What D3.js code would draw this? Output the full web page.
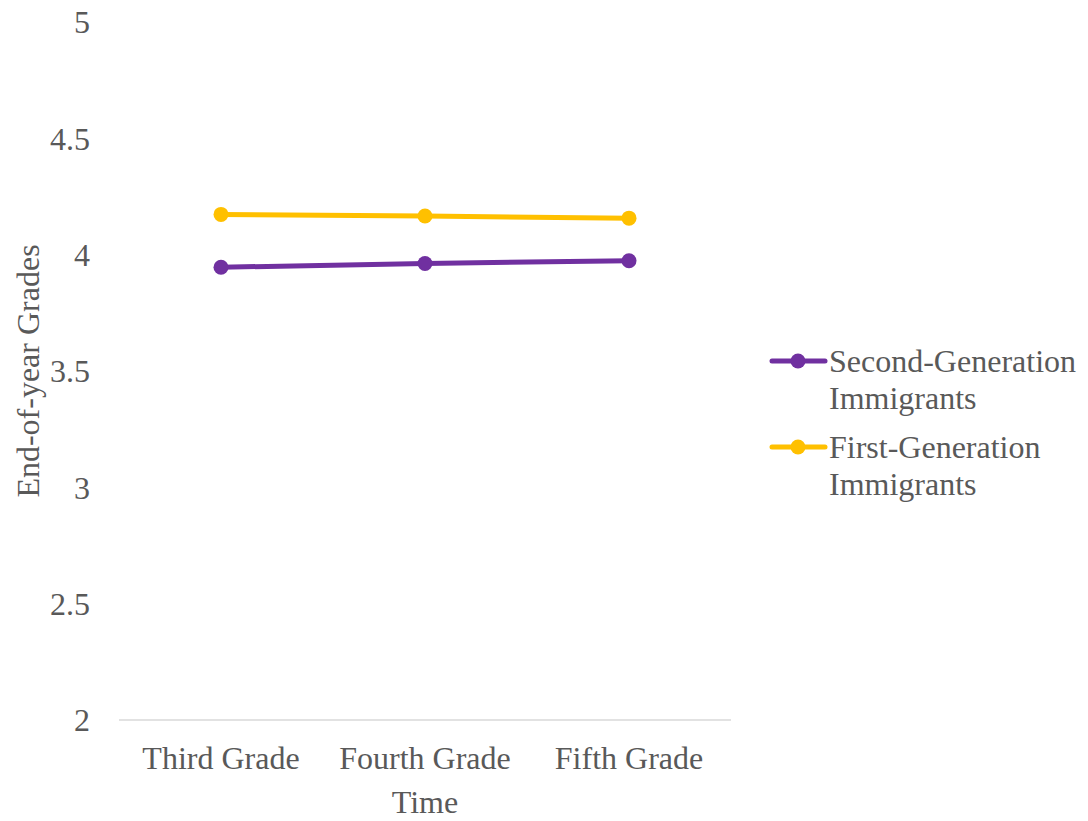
<!DOCTYPE html>
<html><head><meta charset="utf-8">
<script src="https://cdn.jsdelivr.net/npm/d3@7"></script>
<style>body{margin:0;background:#fff;} text{font-family:"Liberation Serif","Times New Roman",serif;fill:#595959;}</style>
</head><body>
<svg id="c" width="1088" height="821"></svg>
<script>
const categories = ["Third Grade", "Fourth Grade", "Fifth Grade"];
const secondGen = [3.946, 3.962, 3.974];
const firstGen = [4.173, 4.166, 4.157];
const yTicks = [2, 2.5, 3, 3.5, 4, 4.5, 5];
const seriesNames = [["Second-Generation", "Immigrants"], ["First-Generation", "Immigrants"]];
const colors = ["#7030A0", "#FFC000"];

const svg = d3.select("#c");
const x = d3.scalePoint().domain(categories).range([221, 629]).padding(0);
const y = d3.scaleLinear().domain([2, 5]).range([720, 22]);
const fs = 32;

// axis line
svg.append("line").attr("x1", 119).attr("x2", 731).attr("y1", y(2)).attr("y2", y(2))
  .attr("stroke", "#d9d9d9").attr("stroke-width", 1.5);

// y tick labels
svg.selectAll(".yt").data(yTicks).enter().append("text")
  .attr("x", 90).attr("y", d => y(d)).attr("dy", "0.35em").attr("text-anchor", "end")
  .style("font-size", fs + "px").text(d => d);

// x tick labels
svg.selectAll(".xt").data(categories).enter().append("text")
  .attr("x", d => x(d)).attr("y", 758).attr("dy", "0.35em").attr("text-anchor", "middle")
  .style("font-size", fs + "px").text(d => d);

svg.append("text").attr("x", x(categories[1])).attr("y", 802).attr("dy", "0.35em")
  .attr("text-anchor", "middle").style("font-size", fs + "px").text("Time");

svg.append("text").attr("transform", "translate(28,371) rotate(-90)").attr("dy", "0.35em")
  .attr("text-anchor", "middle").style("font-size", fs + "px").text("End-of-year Grades");

const series = [secondGen, firstGen];
const line = d3.line().x((d, i) => x(categories[i])).y(d => y(d));
series.forEach((s, k) => {
  svg.append("path").datum(s).attr("d", line).attr("fill", "none")
    .attr("stroke", colors[k]).attr("stroke-width", 5).attr("stroke-linecap", "round");
  svg.selectAll(".p" + k).data(s).enter().append("circle")
    .attr("cx", (d, i) => x(categories[i])).attr("cy", d => y(d)).attr("r", 7.5).attr("fill", colors[k]);
});

// legend
const legY = [361, 447];
seriesNames.forEach((n, k) => {
  const g = svg.append("g");
  g.append("line").attr("x1", 772).attr("x2", 825).attr("y1", legY[k]).attr("y2", legY[k])
    .attr("stroke", colors[k]).attr("stroke-width", 5).attr("stroke-linecap", "round");
  g.append("circle").attr("cx", 798).attr("cy", legY[k]).attr("r", 7.5).attr("fill", colors[k]);
  n.forEach((t, j) => {
    g.append("text").attr("x", 829).attr("y", legY[k] + j * 37).attr("dy", "0.35em")
      .style("font-size", fs + "px").text(t);
  });
});
</script>
</body></html>
